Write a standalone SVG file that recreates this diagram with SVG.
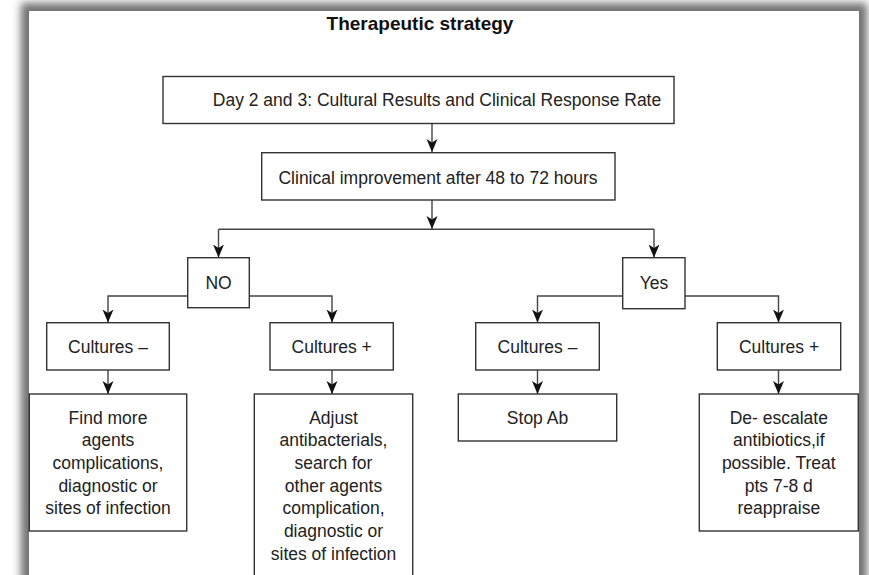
<svg xmlns="http://www.w3.org/2000/svg" width="869" height="575" viewBox="0 0 869 575">
<defs>
<filter id="blur" x="-5%" y="-5%" width="110%" height="110%"><feGaussianBlur stdDeviation="4"/></filter>
<marker id="arr" markerUnits="userSpaceOnUse" markerWidth="16" markerHeight="14" refX="13" refY="5.5" orient="auto">
<path d="M0,0 L13,5.5 L0,11 L3.5,5.5 Z" fill="#111"/>
</marker>
<style>
.box{fill:#fff;stroke:#333;stroke-width:1.4}
.t{font-family:"Liberation Sans",Arial,sans-serif;font-size:17.5px;fill:#222;text-anchor:middle}
.title{font-family:"Liberation Sans",Arial,sans-serif;font-size:19px;font-weight:bold;fill:#111;text-anchor:middle}
.c{fill:none;stroke:#444;stroke-width:1.4}
.a{marker-end:url(#arr)}
</style>
</defs>
<rect width="869" height="575" fill="#fff"/>
<rect x="21" y="3" width="846" height="620" fill="#707070" filter="url(#blur)"/>
<rect x="29" y="11" width="830" height="600" fill="#fff"/>
<text class="title" x="420" y="30">Therapeutic strategy</text>
<g id="connectors">
<path class="c a" d="M432,123.5 V152"/>
<path class="c a" d="M432,200 V229"/>
<path class="c" d="M218.5,229.3 H654"/>
<path class="c a" d="M218.5,229.3 V257.5"/>
<path class="c a" d="M654,229.3 V257.5"/>
<path class="c a" d="M187.7,296 H108 V322.5"/>
<path class="c a" d="M249.3,296 H332 V322.5"/>
<path class="c a" d="M622.7,296 H537.5 V322.5"/>
<path class="c a" d="M685,296 H778.5 V322.5"/>
<path class="c a" d="M108,370 V394"/>
<path class="c a" d="M332,370 V394"/>
<path class="c a" d="M537.5,370 V394"/>
<path class="c a" d="M778.5,370 V394"/>
</g>
<g id="n-day23">
<rect class="box" x="163" y="76.5" width="511" height="47"/>
<text class="t" x="437" y="105.5">Day 2 and 3: Cultural Results and Clinical Response Rate</text>
</g>
<g id="n-clinical">
<rect class="box" x="261.7" y="152.7" width="353.3" height="47.3"/>
<text class="t" x="438" y="184">Clinical improvement after 48 to 72 hours</text>
</g>
<g id="n-no">
<rect class="box" x="187.7" y="257.7" width="61.6" height="50"/>
<text class="t" x="218.5" y="288.5">NO</text>
</g>
<g id="n-yes">
<rect class="box" x="622.7" y="257.7" width="62.3" height="51"/>
<text class="t" x="654" y="288.5">Yes</text>
</g>
<g id="n-no-cneg">
<rect class="box" x="46.7" y="322.7" width="122.6" height="47.3"/>
<text class="t" x="108" y="353">Cultures –</text>
</g>
<g id="n-no-cpos">
<rect class="box" x="270" y="322.7" width="123.3" height="47.3"/>
<text class="t" x="331.7" y="353">Cultures +</text>
</g>
<g id="n-yes-cneg">
<rect class="box" x="475.7" y="322.7" width="123.6" height="47.3"/>
<text class="t" x="537.5" y="353">Cultures –</text>
</g>
<g id="n-yes-cpos">
<rect class="box" x="717.3" y="322.7" width="123.4" height="47.3"/>
<text class="t" x="779" y="353">Cultures +</text>
</g>
<g id="n-find">
<rect class="box" x="29.3" y="394" width="157.4" height="137"/>
<text class="t" x="108" y="423.5">Find more</text>
<text class="t" x="108" y="446.2">agents</text>
<text class="t" x="108" y="468.9">complications,</text>
<text class="t" x="108" y="491.6">diagnostic or</text>
<text class="t" x="108" y="514.3">sites of infection</text>
</g>
<g id="n-adjust">
<rect class="box" x="254.3" y="394" width="158.4" height="200"/>
<text class="t" x="333.5" y="423.5">Adjust</text>
<text class="t" x="333.5" y="446.2">antibacterials,</text>
<text class="t" x="333.5" y="468.9">search for</text>
<text class="t" x="333.5" y="491.6">other agents</text>
<text class="t" x="333.5" y="514.3">complication,</text>
<text class="t" x="333.5" y="537">diagnostic or</text>
<text class="t" x="333.5" y="559.7">sites of infection</text>
</g>
<g id="n-stop">
<rect class="box" x="458.3" y="394" width="158.4" height="47"/>
<text class="t" x="537.5" y="423.5">Stop Ab</text>
</g>
<g id="n-deesc">
<rect class="box" x="699.3" y="394" width="159" height="137"/>
<text class="t" x="778.8" y="423.5">De- escalate</text>
<text class="t" x="778.8" y="446.2">antibiotics,if</text>
<text class="t" x="778.8" y="468.9">possible. Treat</text>
<text class="t" x="778.8" y="491.6">pts 7-8 d</text>
<text class="t" x="778.8" y="514.3">reappraise</text>
</g>
</svg>
